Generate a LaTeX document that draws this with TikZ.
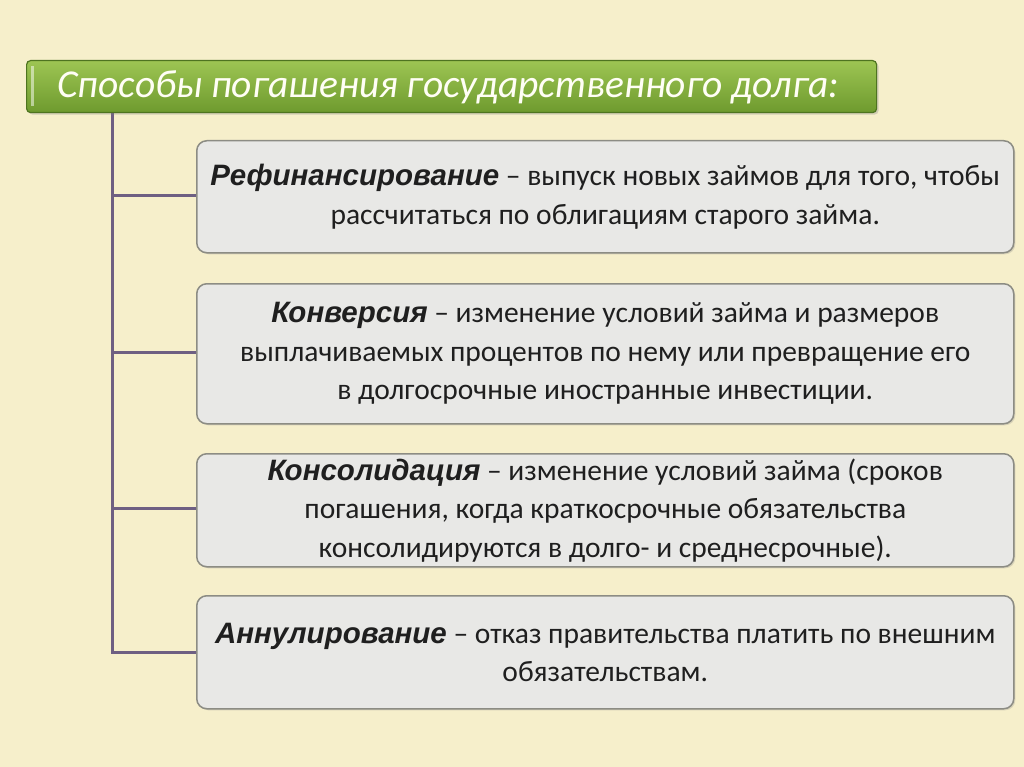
\documentclass[tikz,border=0pt]{standalone}
\usepackage{fontspec}
\setmainfont{Carlito}
\newfontfamily\termfont{Liberation Sans}
\usetikzlibrary{shadows}
\definecolor{bgc}{HTML}{F6EFCB}
\definecolor{boxfill}{HTML}{E8E8E6}
\definecolor{boxline}{HTML}{8C8C84}
\definecolor{linec}{HTML}{6E5F82}
\definecolor{greenA}{HTML}{9DC553}
\definecolor{greenB}{HTML}{6E9A2E}
\definecolor{greenL}{HTML}{4E7420}
\newcommand{\term}[1]{{\termfont\bfseries\itshape #1}}
\newcommand{\tightsp}{\spaceskip=0.22em\relax}
\tikzset{
  infobox/.style={draw=boxline, line width=1.5pt, fill=boxfill, rounded corners=10pt,
    minimum width=817pt, anchor=north west, align=center, font=\fontsize{29.5}{38.5}\selectfont,
    text=black!88,
    drop shadow={shadow xshift=1.5pt, shadow yshift=-1.5pt, opacity=0.25}},
  branch/.style={draw=linec, line width=3pt},
  titlebox/.style={draw=greenL, line width=1.2pt, rounded corners=4pt, top color=greenA, bottom color=greenB,
    minimum width=850pt, minimum height=52pt, anchor=north west,
    drop shadow={shadow xshift=2pt, shadow yshift=-2pt, opacity=0.3}},
  titletext/.style={anchor=west, inner sep=0pt, text=white!96!yellow,
    font=\fontsize{39.5}{42}\selectfont\itshape}
}
\begin{document}
\begin{tikzpicture}[x=1pt,y=-1pt]
\fill[bgc] (0,0) rectangle (1024,767);
\useasboundingbox (0,0) rectangle (1024,767);
\coordinate (top) at (112,112);
\coordinate (c1) at (112,196);
\coordinate (c2) at (112,352);
\coordinate (c3) at (112,508);
\coordinate (c4) at (112,652);
\node[infobox, minimum height=112pt] (b1) at (196,140)
  {\term{Рефинансирование} – выпуск новых займов для того, чтобы\\рассчитаться по облигациям старого займа.};
\node[infobox, minimum height=140pt] (b2) at (196,283)
  {\term{Конверсия} – изменение условий займа и размеров\\выплачиваемых процентов по нему или превращение его\\в долгосрочные иностранные инвестиции.};
\node[infobox, minimum height=113pt] (b3) at (196,453)
  {\term{Консолидация} – изменение условий займа (сроков\\погашения, когда краткосрочные обязательства\\консолидируются в долго- и среднесрочные).};
\node[infobox, minimum height=113pt] (b4) at (196,595)
  {\term{Аннулирование} – отказ правительства платить по внешним\\обязательствам.};
\draw[branch] (top) -- (c4) -- (b4.west |- c4);
\draw[branch] (c1) -- (b1.west |- c1);
\draw[branch] (c2) -- (b2.west |- c2);
\draw[branch] (c3) -- (b3.west |- c3);
\node[titlebox] (t) at (26,60) {};
\fill[white, opacity=0.5] (31,66) rectangle (34,106);
\node[titletext] (tt) at (57,87) {\tightsp Способы погашения государственного долга:};
\end{tikzpicture}
\end{document}
